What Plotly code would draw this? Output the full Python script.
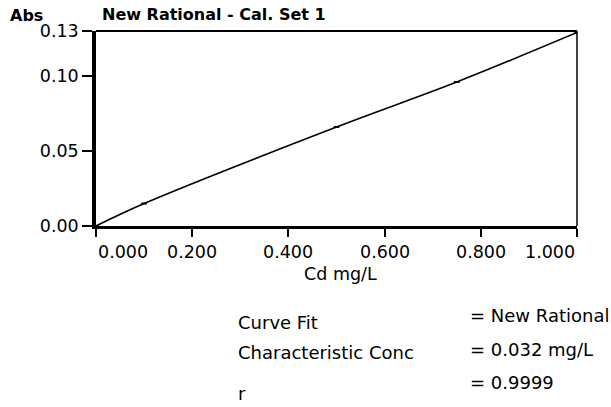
import plotly.graph_objects as go

conc = [0.0, 0.1, 0.5, 0.75, 1.0]
absorb = [0.0, 0.015, 0.066, 0.096, 0.129]
x_ticks = [0.0, 0.2, 0.4, 0.6, 0.8, 1.0]
x_tick_text = ["0.000", "0.200", "0.400", "0.600", "0.800", "1.000"]
y_ticks = [0.0, 0.05, 0.10, 0.13]
y_tick_text = ["0.00", "0.05", "0.10", "0.13"]
info_labels = ["Curve Fit", "Characteristic Conc", "r"]
info_values = ["= New Rational", "= 0.032 mg/L", "= 0.9999"]

FONT = "DejaVu Sans, Verdana, sans-serif"
W, H = 611, 407
ML, MR, MT, MB = 96, 34, 31, 181

fig = go.Figure()
fig.add_trace(go.Scatter(
    x=conc, y=absorb, mode="lines+markers", line_shape="spline",
    line=dict(color="black", width=1.6),
    marker=dict(color="black", size=4, symbol="line-ew-open", line=dict(width=2, color="black")),
    showlegend=False, hoverinfo="skip"))

fig.update_layout(
    width=W, height=H,
    margin=dict(l=ML, r=MR, t=MT, b=MB, pad=0),
    paper_bgcolor="white", plot_bgcolor="white",
    font=dict(family=FONT, color="black", size=17.5),
    showlegend=False,
)
fig.update_xaxes(
    range=[0, 1.0], tickvals=x_ticks, showticklabels=False, automargin=False,
    ticks="outside", ticklen=8, tickwidth=2, tickcolor="black",
    showline=True, linewidth=3, linecolor="black",
    showgrid=False, zeroline=False,
)
fig.update_yaxes(
    range=[0, 0.13], tickvals=y_ticks, ticktext=y_tick_text, automargin=False,
    ticks="outside", ticklen=10, tickwidth=1.5, tickcolor="black",
    showline=True, linewidth=3.5, linecolor="black",
    showgrid=False, zeroline=False, tickfont=dict(size=17.5),
)
# top and right frame lines
fig.add_shape(type="line", xref="paper", yref="paper", x0=0, x1=1, y0=1, y1=1,
              line=dict(color="black", width=1.8))
fig.add_shape(type="line", xref="paper", yref="paper", x0=1, x1=1, y0=0, y1=1,
              line=dict(color="black", width=1.5))

pw, ph = W - ML - MR, H - MT - MB
def px(x):
    return (x - ML) / pw
def py(y):
    return (H - MB - y) / ph

anns = []
for i, (v, t) in enumerate(zip(x_ticks, x_tick_text)):
    anchor = "left" if i == 0 else ("right" if i == len(x_ticks) - 1 else "center")
    anns.append(dict(x=v, y=0, xref="x", yref="paper", text=t, showarrow=False,
                     xanchor=anchor, yanchor="top", yshift=-14, font=dict(size=17.5)))
anns.append(dict(x=px(340), y=0, xref="paper", yref="paper", text="Cd mg/L", showarrow=False,
                 xanchor="center", yanchor="top", yshift=-36, font=dict(size=17.5)))

text_items = [
    (8, 15, "<b>Abs</b>", 16),
    (100, 14, "<b>New Rational - Cal. Set 1</b>", 16),
]
for lbl, yy in zip(info_labels, [322, 352, 393]):
    text_items.append((236, yy, lbl, 18))
for val, yy in zip(info_values, [315, 349, 382]):
    text_items.append((468, yy, val, 18))

for x0, y0, t, s in text_items:
    anns.append(dict(x=px(x0), y=py(y0), xref="paper", yref="paper", text=t,
                     showarrow=False, xanchor="left", yanchor="middle",
                     font=dict(size=s)))

fig.update_layout(annotations=anns)

fig.write_html("out.html", config={"displayModeBar": False},
               post_script="document.body.style.margin='0px';document.body.style.padding='0px';")
